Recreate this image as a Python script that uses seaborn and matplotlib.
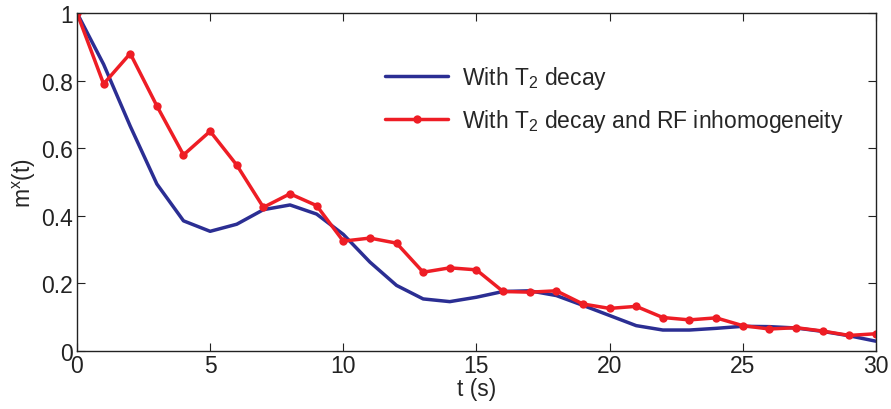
import matplotlib
matplotlib.use('Agg')
import matplotlib.pyplot as plt
import matplotlib.ticker as mticker
import seaborn as sns
import pandas as pd

# Data
t = list(range(31))
t2_decay = [1.0, 0.848, 0.665, 0.494, 0.385, 0.354, 0.375, 0.418, 0.432, 0.405,
            0.345, 0.263, 0.194, 0.154, 0.146, 0.159, 0.176, 0.178, 0.164, 0.135,
            0.105, 0.075, 0.062, 0.062, 0.067, 0.073, 0.072, 0.068, 0.058, 0.045,
            0.029]
t2_rf = [1.0, 0.79, 0.88, 0.725, 0.58, 0.65, 0.55, 0.425, 0.465, 0.43,
         0.325, 0.334, 0.319, 0.233, 0.246, 0.240, 0.176, 0.174, 0.178, 0.139,
         0.126, 0.132, 0.099, 0.092, 0.098, 0.075, 0.065, 0.069, 0.059, 0.046,
         0.051]
labels = ['With T$_2$ decay', 'With T$_2$ decay and RF inhomogeneity']

sns.set_theme(style='ticks')
plt.rcParams['font.family'] = ['Liberation Sans', 'DejaVu Sans']
plt.rcParams['mathtext.fontset'] = 'custom'
plt.rcParams['mathtext.rm'] = 'Liberation Sans'
plt.rcParams['mathtext.it'] = 'Liberation Sans'

FS = 16.5
df = pd.DataFrame({'t': t, 'a': t2_decay, 'b': t2_rf})

fig = plt.figure(figsize=(8.91, 4.10), dpi=100)
ax = fig.add_axes([0.0864, 0.1415, 0.8966, 0.8245])

sns.lineplot(data=df, x='t', y='a', ax=ax, color='#2B2E93', lw=2.5, label=labels[0])
sns.lineplot(data=df, x='t', y='b', ax=ax, color='#EE1D25', lw=2.5, marker='o',
             markersize=6, markeredgewidth=0, label=labels[1])

ax.set_xlim(0, 30)
ax.set_ylim(0, 1)
ax.set_xticks(range(0, 31, 5))
ax.set_yticks([0, 0.2, 0.4, 0.6, 0.8, 1])
ax.yaxis.set_major_formatter(mticker.FuncFormatter(lambda v, p: '%g' % v))
ax.tick_params(direction='in', length=6, width=0.8, top=True, right=True,
               labelsize=FS, colors='#222222', pad=3)
ax.tick_params(axis='x', pad=2)
for s in ax.spines.values():
    s.set_linewidth(1.0)
    s.set_color('#222222')
ax.set_xlabel('t (s)', fontsize=FS, labelpad=0)
ax.set_ylabel('m$^{\\mathrm{x}}$(t)', fontsize=FS, labelpad=2)

ax.legend(loc='upper left', bbox_to_anchor=(0.36, 0.91), frameon=False,
          fontsize=FS, handlelength=2.75, handletextpad=0.6, labelspacing=0.7)

fig.savefig('out.png', dpi=100)
